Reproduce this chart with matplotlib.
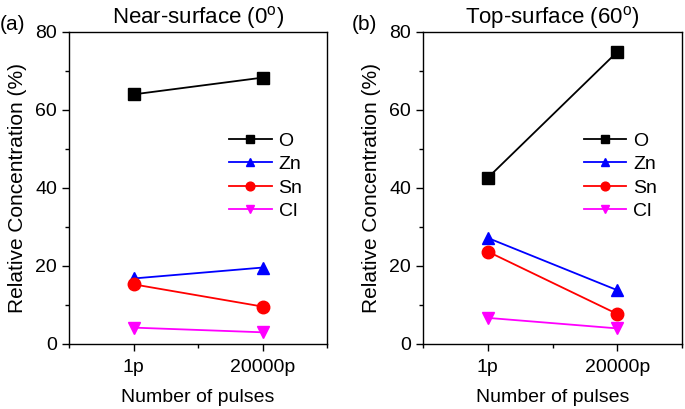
import matplotlib
matplotlib.use("Agg")
import matplotlib.pyplot as plt
from matplotlib.ticker import MultipleLocator, FixedLocator

plt.rcParams['font.family'] = ['Liberation Sans', 'DejaVu Sans']

categories = ["1p", "20000p"]
elements = ["O", "Zn", "Sn", "Cl"]
near_O = [64.0, 68.3]
near_Zn = [16.8, 19.6]
near_Sn = [15.3, 9.6]
near_Cl = [4.2, 3.0]
top_O = [42.6, 74.9]
top_Zn = [27.2, 13.8]
top_Sn = [23.7, 7.7]
top_Cl = [6.7, 4.0]

colors = ["black", "#0000FF", "#FF0000", "#FF00FF"]
markers = ["s", "^", "o", "v"]

W, H = 685, 409
fig = plt.figure(figsize=(W / 100, H / 100), dpi=100)
ax1 = fig.add_axes([69 / W, (H - 344) / H, 258 / W, 312 / H])
ax2 = fig.add_axes([423 / W, (H - 344) / H, 259 / W, 312 / H])

panels = [
    (ax1, [near_O, near_Zn, near_Sn, near_Cl], r"Near-surface (0$^\mathregular{o}$)"),
    (ax2, [top_O, top_Zn, top_Sn, top_Cl], r"Top-surface (60$^\mathregular{o}$)"),
]

x = list(range(len(categories)))
for ax, series, title in panels:
    for vals, name, c, m in zip(series, elements, colors, markers):
        ax.plot(x, vals, color=c, marker=m, markersize=9, linewidth=1.3, label=name)
    ax.set_xlim(-0.5, 1.5)
    ax.set_ylim(0, 80)
    ax.xaxis.set_major_locator(FixedLocator(x))
    ax.set_xticklabels(categories)
    ax.xaxis.set_minor_locator(MultipleLocator(0.5))
    ax.yaxis.set_major_locator(MultipleLocator(20))
    ax.yaxis.set_minor_locator(MultipleLocator(10))
    ax.tick_params(which="major", direction="out", length=5, width=1, labelsize=14)
    ax.tick_params(which="minor", direction="out", length=3, width=1)
    ax.tick_params(axis="x", pad=6)
    for s in ax.spines.values():
        s.set_linewidth(1.0)
    ax.set_xlabel("Number of pulses", fontsize=14, labelpad=9)
    ax.set_ylabel("Relative Concentration (%)", fontsize=15, labelpad=6)
    ax.set_title(title, fontsize=16, pad=6)
    ax.legend(loc="center left", bbox_to_anchor=(0.62, 0.538), frameon=False,
              fontsize=14, handlelength=2.2, labelspacing=0.3, handletextpad=0.35,
              borderpad=0, borderaxespad=0, markerscale=0.7)

fig.text(0 / W, 1 - 25 / H, "(a)", fontsize=15, va="center", ha="left")
fig.text(352 / W, 1 - 25 / H, "(b)", fontsize=15, va="center", ha="left")

fig.savefig("out.png", dpi=100)
